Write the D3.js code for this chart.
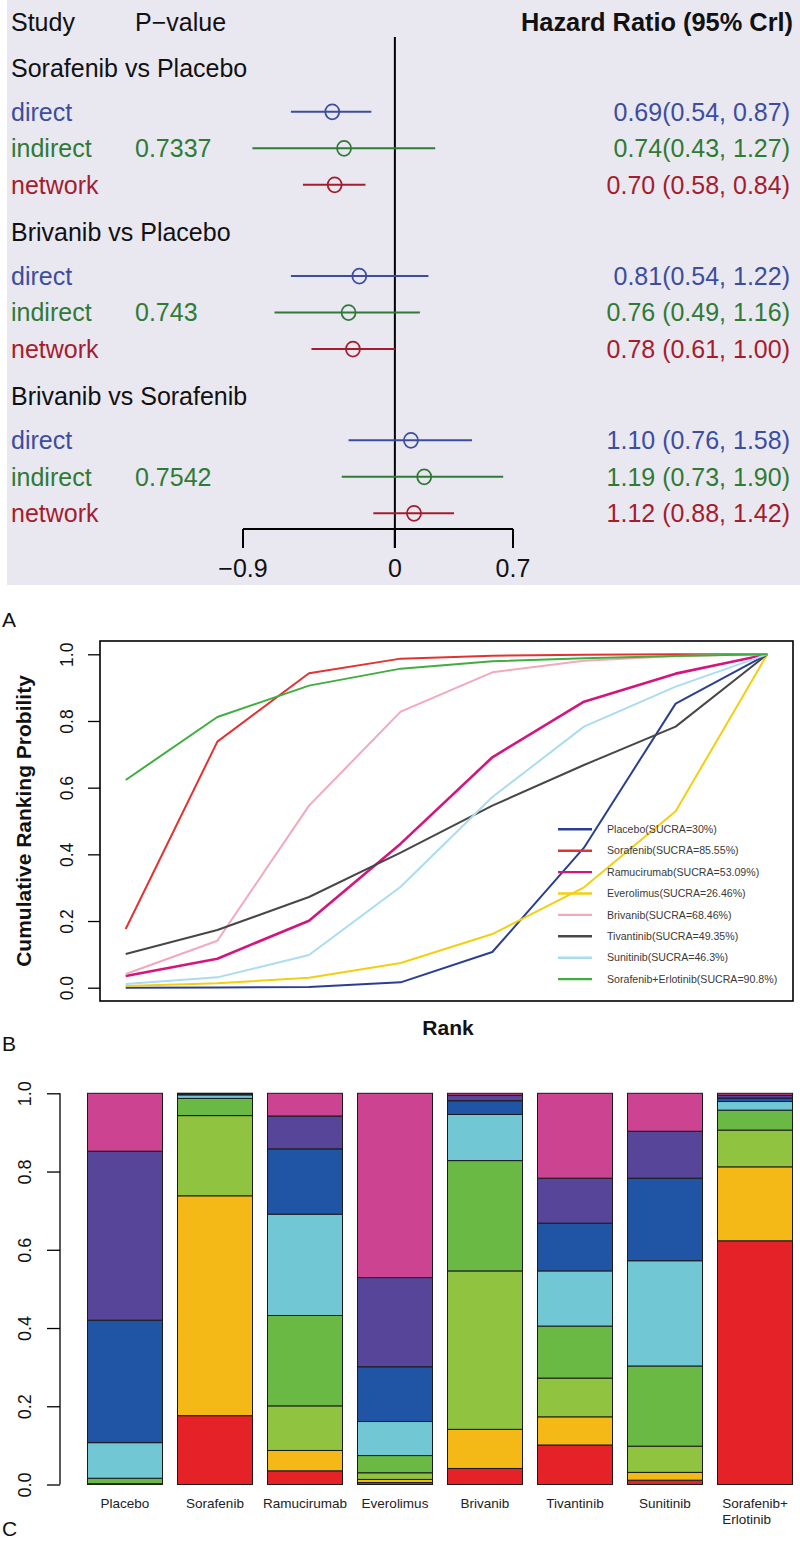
<!DOCTYPE html>
<html>
<head>
<meta charset="utf-8">
<script src="https://cdn.jsdelivr.net/npm/d3@7"></script>
<style>
  html, body { margin: 0; padding: 0; background: #fff; }
  svg text { font-family: "Liberation Sans", Arial, Helvetica, sans-serif; }
</style>
</head>
<body>
<svg id="chart" width="800" height="1542"></svg>
<script>
// ---------------- Panel A data (forest plot) ----------------
const comparisons = ["Sorafenib vs Placebo", "Brivanib vs Placebo", "Brivanib vs Sorafenib"];
const evidenceTypes = ["direct", "indirect", "network"];
// hazard ratios per comparison, in order direct / indirect / network
const hrEst = [[0.69, 0.74, 0.70], [0.81, 0.76, 0.78], [1.10, 1.19, 1.12]];
const hrLow = [[0.54, 0.43, 0.58], [0.54, 0.49, 0.61], [0.76, 0.73, 0.88]];
const hrHigh = [[0.87, 1.27, 0.84], [1.22, 1.16, 1.00], [1.58, 1.90, 1.42]];
const hrLabels = [
  ["0.69(0.54, 0.87)", "0.74(0.43, 1.27)", "0.70 (0.58, 0.84)"],
  ["0.81(0.54, 1.22)", "0.76 (0.49, 1.16)", "0.78 (0.61, 1.00)"],
  ["1.10 (0.76, 1.58)", "1.19 (0.73, 1.90)", "1.12 (0.88, 1.42)"]
];
const pValues = ["0.7337", "0.743", "0.7542"];
const forestTicks = [-0.9, 0, 0.7];
const forestTickLabels = ["\u22120.9", "0", "0.7"];

// ---------------- Panel B/C data (ranking) ----------------
const treatments = ["Placebo", "Sorafenib", "Ramucirumab", "Everolimus", "Brivanib", "Tivantinib", "Sunitinib", "Sorafenib+Erlotinib"];
const sucra = ["30%", "85.55%", "53.09%", "26.46%", "68.46%", "49.35%", "46.3%", "90.8%"];
const ranks = [1, 2, 3, 4, 5, 6, 7, 8];
// cumulative ranking probability at ranks 1..8
const cumPlacebo     = [0.000, 0.0005, 0.002, 0.016, 0.107, 0.420, 0.852, 1];
const cumSorafenib   = [0.176, 0.738, 0.943, 0.987, 0.996, 0.999, 0.9998, 1];
const cumRamucirumab = [0.035, 0.087, 0.201, 0.432, 0.691, 0.858, 0.942, 1];
const cumEverolimus  = [0.005, 0.013, 0.030, 0.074, 0.161, 0.301, 0.529, 1];
const cumBrivanib    = [0.041, 0.141, 0.546, 0.828, 0.946, 0.981, 0.995, 1];
const cumTivantinib  = [0.101, 0.173, 0.272, 0.405, 0.546, 0.668, 0.783, 1];
const cumSunitinib   = [0.011, 0.031, 0.098, 0.303, 0.572, 0.783, 0.903, 1];
const cumSorErl      = [0.623, 0.812, 0.906, 0.957, 0.979, 0.988, 0.995, 1];
const barLabels = ["Placebo", "Sorafenib", "Ramucirumab", "Everolimus", "Brivanib", "Tivantinib", "Sunitinib", "Sorafenib+\nErlotinib"];
const yTicks = [0, 0.2, 0.4, 0.6, 0.8, 1.0];

// ---------------- styles ----------------
const evidenceColors = ["#3c4da0", "#2f7a35", "#a51d2d"];
const lineColors = ["#2a3f92", "#e33232", "#d4157e", "#f3cf10", "#f3a8bb", "#474747", "#aadcf1", "#3fae3f"];
const lineWidths = [2, 2, 2.6, 2, 2, 2, 2, 2];
const rankColors = ["#e42227", "#f4b917", "#8fc340", "#6bb945", "#71c8d4", "#2055a5", "#574599", "#cb4391"];

const cumulative = [cumPlacebo, cumSorafenib, cumRamucirumab, cumEverolimus, cumBrivanib, cumTivantinib, cumSunitinib, cumSorErl];

const svg = d3.select("#chart");

// =========================== Panel A ===========================
const gA = svg.append("g");
gA.append("rect").attr("x", 7).attr("y", 0).attr("width", 793).attr("height", 585).attr("fill", "#e9e8f1");

const fx = d3.scaleLinear().domain([-0.9, 0.7]).range([243, 513]);
const rowY = d3.scaleLinear().domain([0, 1]).range([68, 104.5]); // one text line per unit
const fs = 25;

gA.append("text").attr("x", 11).attr("y", rowY(-1.26)).attr("dy", "0.35em")
  .attr("font-size", fs).attr("fill", "#111").text("Study");
gA.append("text").attr("x", 135).attr("y", rowY(-1.26)).attr("dy", "0.35em")
  .attr("font-size", fs).attr("fill", "#111").text("P\u2212value");
gA.append("text").attr("x", 793).attr("y", rowY(-1.26)).attr("dy", "0.35em")
  .attr("font-size", fs).attr("font-weight", "bold").attr("text-anchor", "end").attr("fill", "#111")
  .attr("textLength", 272).attr("lengthAdjust", "spacingAndGlyphs")
  .text("Hazard Ratio (95% Crl)");

// zero reference line
gA.append("line").attr("x1", fx(0)).attr("x2", fx(0)).attr("y1", 37).attr("y2", 548)
  .attr("stroke", "#000").attr("stroke-width", 2);

comparisons.forEach((comp, g) => {
  const base = g * 4.5;
  gA.append("text").attr("x", 11).attr("y", rowY(base)).attr("dy", "0.35em")
    .attr("font-size", fs).attr("fill", "#111").text(comp);
  evidenceTypes.forEach((ev, k) => {
    const y = rowY(base + 1.2 + k);
    const col = evidenceColors[k];
    gA.append("text").attr("x", 11).attr("y", y).attr("dy", "0.35em")
      .attr("font-size", fs).attr("fill", col).text(ev);
    if (ev === "indirect") {
      gA.append("text").attr("x", 135).attr("y", y).attr("dy", "0.35em")
        .attr("font-size", fs).attr("fill", col).text(pValues[g]);
    }
    gA.append("line")
      .attr("x1", fx(Math.log(hrLow[g][k]))).attr("x2", fx(Math.log(hrHigh[g][k])))
      .attr("y1", y).attr("y2", y).attr("stroke", col).attr("stroke-width", 2);
    gA.append("ellipse")
      .attr("cx", fx(Math.log(hrEst[g][k]))).attr("cy", y).attr("rx", 7).attr("ry", 7.5)
      .attr("fill", "none").attr("stroke", col).attr("stroke-width", 1.8);
    gA.append("text").attr("x", 790).attr("y", y).attr("dy", "0.35em")
      .attr("font-size", fs).attr("text-anchor", "end").attr("fill", col).text(hrLabels[g][k]);
  });
});

// forest axis
const axisA = gA.append("g").attr("transform", "translate(0,529)");
axisA.append("line").attr("x1", fx(-0.9)).attr("x2", fx(0.7)).attr("y1", 0).attr("y2", 0)
  .attr("stroke", "#000").attr("stroke-width", 2);
forestTicks.forEach((t, i) => {
  axisA.append("line").attr("x1", fx(t)).attr("x2", fx(t)).attr("y1", 0).attr("y2", 19)
    .attr("stroke", "#000").attr("stroke-width", 2);
  axisA.append("text").attr("x", fx(t)).attr("y", 39).attr("dy", "0.35em")
    .attr("text-anchor", "middle").attr("font-size", fs).attr("fill", "#111").text(forestTickLabels[i]);
});

// panel letters
svg.append("text").attr("x", 2).attr("y", 627).attr("font-size", 21).attr("fill", "#111").text("A");
svg.append("text").attr("x", 2).attr("y", 1051).attr("font-size", 21).attr("fill", "#111").text("B");
svg.append("text").attr("x", 2).attr("y", 1536).attr("font-size", 21).attr("fill", "#111").text("C");

// =========================== Panel B ===========================
const bx = d3.scaleLinear().domain([1, 8]).range([125.7, 767.3]);
const by = d3.scaleLinear().domain([0, 1]).range([987.7, 654.3]);
const gB = svg.append("g");

const lineGen = d3.line().x((d, i) => bx(ranks[i])).y(d => by(d));
cumulative.forEach((vals, t) => {
  gB.append("path").datum(vals).attr("d", lineGen)
    .attr("fill", "none").attr("stroke", lineColors[t]).attr("stroke-width", lineWidths[t])
    .attr("stroke-linejoin", "round");
});
gB.append("rect").attr("x", 100).attr("y", 641).attr("width", 693).attr("height", 360)
  .attr("fill", "none").attr("stroke", "#000").attr("stroke-width", 1.6);

const yAxisB = d3.axisLeft(by).tickValues(yTicks).tickFormat(d3.format(".1f")).tickSize(12);
const gyB = gB.append("g").attr("transform", "translate(100,0)").call(yAxisB);
gyB.select(".domain").remove();
gyB.selectAll(".tick line").attr("stroke", "#000").attr("stroke-width", 1.3);
gyB.selectAll(".tick text").attr("font-size", 17.5).attr("fill", "#111")
  .attr("font-family", "'Liberation Sans', Arial, sans-serif")
  .attr("x", null).attr("dy", null).attr("text-anchor", "middle")
  .attr("transform", "translate(-33,0) rotate(-90)").attr("y", 0).attr("dominant-baseline", "central");

gB.append("text").attr("transform", "translate(31,821) rotate(-90)")
  .attr("text-anchor", "middle").attr("font-size", 21).attr("font-weight", "bold").attr("fill", "#111")
  .text("Cumulative Ranking Probility");
gB.append("text").attr("x", 448).attr("y", 1035).attr("text-anchor", "middle")
  .attr("font-size", 21).attr("font-weight", "bold").attr("fill", "#111").text("Rank");

// legend
const legY = d3.scaleLinear().domain([0, 1]).range([829.3, 850.7]);
treatments.forEach((name, t) => {
  const y = legY(t);
  gB.append("line").attr("x1", 558).attr("x2", 592).attr("y1", y).attr("y2", y)
    .attr("stroke", lineColors[t]).attr("stroke-width", 2.4);
  gB.append("text").attr("x", 607).attr("y", y).attr("dy", "0.35em")
    .attr("font-size", 10.6).attr("fill", "#3a3a3a").text(`${name}(SUCRA=${sucra[t]})`);
});

// =========================== Panel C ===========================
const cx = d3.scaleBand().domain(treatments).range([80, 800]).paddingInner(1 / 6).paddingOuter(1 / 12);
const cy = d3.scaleLinear().domain([0, 1]).range([1484.5, 1093.3]);
const gC = svg.append("g");

// per-rank probabilities from cumulative values
const probRows = treatments.map((name, t) => {
  const row = { name };
  ranks.forEach((r, i) => { row["r" + r] = cumulative[t][i] - (i ? cumulative[t][i - 1] : 0); });
  return row;
});
const stack = d3.stack().keys(ranks.map(r => "r" + r));
const series = stack(probRows);
series.forEach((s, k) => {
  gC.append("g").selectAll("rect").data(s).join("rect")
    .attr("x", d => cx(d.data.name))
    .attr("width", cx.bandwidth())
    .attr("y", d => cy(d[1]))
    .attr("height", d => Math.max(0, cy(d[0]) - cy(d[1])))
    .attr("fill", rankColors[k])
    .attr("stroke", "#1a1a1a").attr("stroke-width", 1);
});

const yAxisC = d3.axisLeft(cy).tickValues(yTicks).tickFormat(d3.format(".1f")).tickSize(13);
const gyC = gC.append("g").attr("transform", "translate(60,0)").call(yAxisC);
gyC.select(".domain").attr("stroke", "#000").attr("stroke-width", 1.3).attr("d", `M0,${cy(0)}V${cy(1)}`);
gyC.selectAll(".tick line").attr("stroke", "#000").attr("stroke-width", 1.3);
gyC.selectAll(".tick text").attr("font-size", 18).attr("fill", "#111")
  .attr("font-family", "'Liberation Sans', Arial, sans-serif")
  .attr("x", null).attr("dy", null).attr("text-anchor", "middle")
  .attr("transform", "translate(-35,0) rotate(-90)").attr("y", 0).attr("dominant-baseline", "central");

// category labels
treatments.forEach((name, t) => {
  const lines = barLabels[t].split("\n");
  const center = cx(name) + cx.bandwidth() / 2;
  if (lines.length === 1) {
    gC.append("text").attr("x", center).attr("y", 1503).attr("dy", "0.35em")
      .attr("text-anchor", "middle").attr("font-size", 13.5).attr("fill", "#222").text(lines[0]);
  } else {
    const first = gC.append("text").attr("x", center).attr("y", 1503).attr("dy", "0.35em")
      .attr("text-anchor", "middle").attr("font-size", 13.5).attr("fill", "#222").text(lines[0]);
    const w = first.node().getComputedTextLength();
    gC.append("text").attr("x", center - w / 2).attr("y", 1519).attr("dy", "0.35em")
      .attr("text-anchor", "start").attr("font-size", 13.5).attr("fill", "#222").text(lines[1]);
  }
});
</script>
</body>
</html>
